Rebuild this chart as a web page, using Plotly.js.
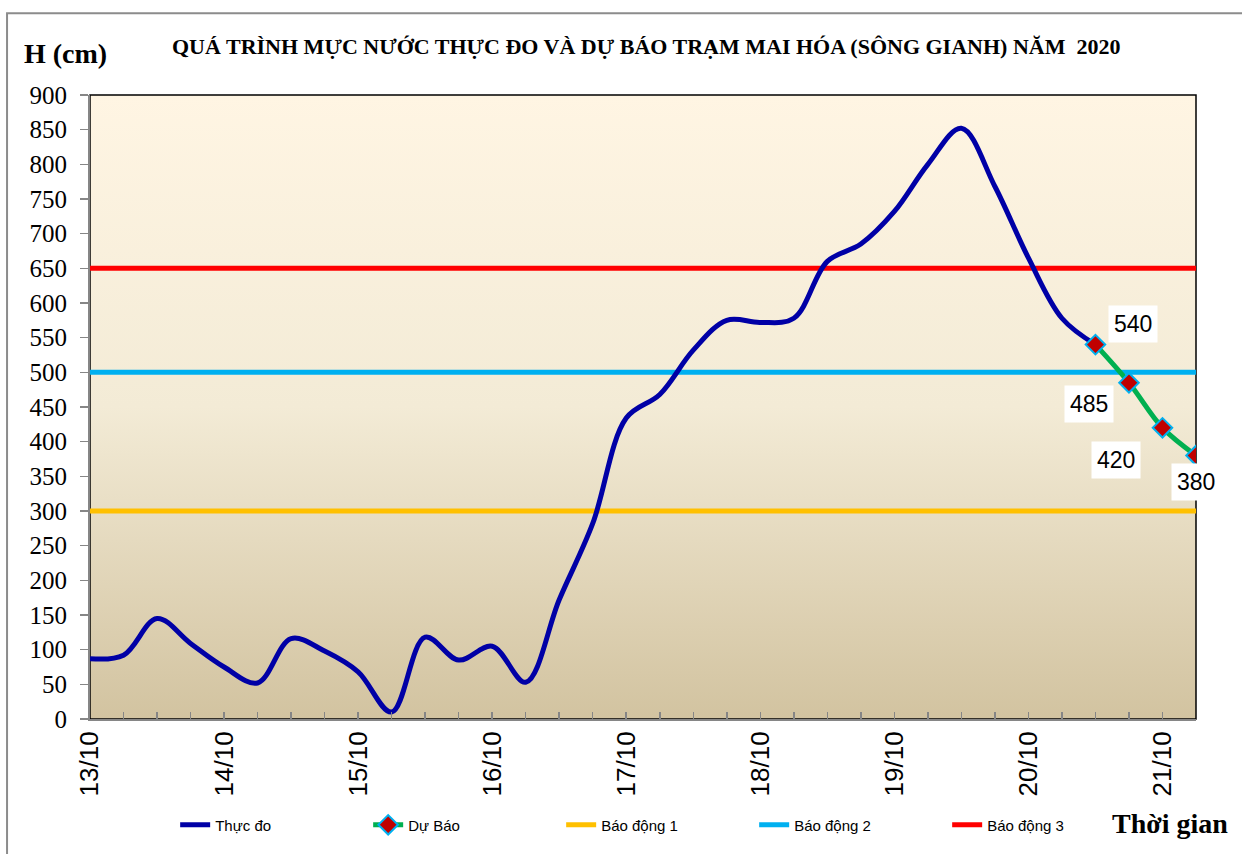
<!DOCTYPE html>
<html>
<head>
<meta charset="utf-8">
<script src="https://cdn.plot.ly/plotly-3.0.1.min.js"></script>
<style>html,body{margin:0;padding:0;background:#fff;}#chart{width:1242px;height:854px;}</style>
</head>
<body>
<div id="chart"></div>
<script>
// 6-hourly time steps (13/10 00h -> 21/10 06h)
const times = [
  "2020-10-13 00:00","2020-10-13 06:00","2020-10-13 12:00","2020-10-13 18:00",
  "2020-10-14 00:00","2020-10-14 06:00","2020-10-14 12:00","2020-10-14 18:00",
  "2020-10-15 00:00","2020-10-15 06:00","2020-10-15 12:00","2020-10-15 18:00",
  "2020-10-16 00:00","2020-10-16 06:00","2020-10-16 12:00","2020-10-16 18:00",
  "2020-10-17 00:00","2020-10-17 06:00","2020-10-17 12:00","2020-10-17 18:00",
  "2020-10-18 00:00","2020-10-18 06:00","2020-10-18 12:00","2020-10-18 18:00",
  "2020-10-19 00:00","2020-10-19 06:00","2020-10-19 12:00","2020-10-19 18:00",
  "2020-10-20 00:00","2020-10-20 06:00","2020-10-20 12:00","2020-10-20 18:00",
  "2020-10-21 00:00","2020-10-21 06:00"
];
// Thực đo (observed)
const observed = [87, 92, 145, 109, 75, 52, 116, 98, 68, 10, 118, 85, 105, 53, 172, 282, 434, 468, 532, 575, 572, 578, 660, 685, 732, 800, 852, 768, 665, 578, 540];
// Dự Báo (forecast)
const forecastTimes = ["2020-10-20 12:00","2020-10-20 18:00","2020-10-21 00:00","2020-10-21 06:00"];
const forecast = [540, 485, 420, 380];
// Alarm levels
const alarmNames = ["Báo động 1", "Báo động 2", "Báo động 3"];
const alarmLevels = [300, 500, 650];
const alarmColors = ["#FFC000", "#00B0F0", "#FF0000"];
// label offsets (styling only)
const labelShiftX = [38, -40, -46, 0];
const labelShiftY = [21, -21, -32, -26];

const obsTimes = times.slice(0, observed.length);
const xStart = times[0], xEnd = times[times.length - 1];

const traces = [];
alarmLevels.forEach((lv, i) => {
  traces.push({x: [xStart, xEnd], y: [lv, lv], name: alarmNames[i], type: "scatter", mode: "lines",
    legendrank: 3 + i, line: {color: alarmColors[i], width: 5}});
});
traces.push({x: obsTimes, y: observed, name: "Thực đo", type: "scatter", mode: "lines", legendrank: 1,
   line: {color: "#0000A6", width: 5, shape: "spline", smoothing: 1}});
traces.push({x: forecastTimes, y: forecast, name: "Dự Báo", type: "scatter", mode: "lines+markers", legendrank: 2,
  line: {color: "#00B050", width: 5, shape: "spline", smoothing: 1},
  marker: {symbol: "diamond", size: 15, color: "#C00000", line: {color: "#00B0F0", width: 2}}});

const annotations = forecast.map((v, i) => ({
  x: forecastTimes[i], y: v, xref: "x", yref: "y", text: String(v), showarrow: false,
  xanchor: "center", yanchor: "middle",
  xshift: labelShiftX[i], yshift: labelShiftY[i], bgcolor: "#FFFFFF", borderpad: 5,
  font: {family: "Liberation Sans, Arial", size: 23, color: "#000"}
}));
annotations.push({xref: "paper", yref: "paper", x: 0.503, y: 1.077, xanchor: "center", yanchor: "middle", showarrow: false,
  text: "<b>QUÁ TRÌNH MỰC NƯỚC THỰC ĐO VÀ DỰ BÁO TRẠM MAI HÓA (SÔNG GIANH) NĂM&nbsp; 2020</b>",
  font: {family: "Liberation Serif, Times New Roman", size: 22, color: "#000"}});
annotations.push({xref: "paper", yref: "paper", x: -0.0226, y: 1.067, xanchor: "center", yanchor: "middle", showarrow: false,
  text: "<b>H (cm)</b>", font: {family: "Liberation Serif, Times New Roman", size: 28, color: "#000"}});
annotations.push({xref: "paper", yref: "paper", x: 0.9765, y: -0.167, xanchor: "center", yanchor: "middle", showarrow: false,
  text: "<b>Thời gian</b>", font: {family: "Liberation Serif, Times New Roman", size: 28, color: "#000"}});

const svg = "<svg xmlns='http://www.w3.org/2000/svg' width='100' height='100' preserveAspectRatio='none'>" +
  "<defs><linearGradient id='g' x1='0' y1='0' x2='0' y2='1'>" +
  "<stop offset='0' stop-color='#FFF5E3'/><stop offset='0.5' stop-color='#F3EBD6'/><stop offset='1' stop-color='#D2C3A0'/>" +
  "</linearGradient></defs><rect width='100' height='100' fill='url(#g)'/></svg>";
const bg = "data:image/svg+xml;base64," + btoa(svg);

const layout = {
  width: 1242, height: 854,
  margin: {l: 90, r: 46, t: 95, b: 135},
  paper_bgcolor: "#FFFFFF", plot_bgcolor: "rgba(0,0,0,0)",
  showlegend: true,
  legend: {orientation: "h", x: 0.077, y: -0.17, xanchor: "left", yanchor: "middle",
    entrywidth: 148, entrywidthmode: "pixels",
    font: {family: "Liberation Sans, Arial", size: 15, color: "#000"}, bgcolor: "rgba(0,0,0,0)",
    traceorder: "normal"},
  images: [{source: bg, xref: "paper", yref: "paper", x: 0, y: 1, sizex: 1, sizey: 1,
    sizing: "stretch", layer: "below", xanchor: "left", yanchor: "top"}],
  xaxis: {type: "date", range: [xStart, xEnd], dtick: 86400000, tick0: xStart,
    tickformat: "%d/%m", tickangle: -90, ticks: "inside", ticklen: 7, tickcolor: "#868686", tickwidth: 1.5,
    minor: {dtick: 21600000, ticks: "inside", ticklen: 7, tickcolor: "#868686", tickwidth: 1.5, showgrid: false},
    showline: true, linecolor: "#868686", linewidth: 2, showgrid: false, zeroline: false,
    tickfont: {family: "Liberation Sans, Arial", size: 26, color: "#000"}, fixedrange: true},
  yaxis: {range: [0, 900], dtick: 50, ticks: "outside", ticklen: 8, tickcolor: "#868686", tickwidth: 1.5,
    ticklabelstandoff: 8,
    showline: true, linecolor: "#868686", linewidth: 2, showgrid: false, zeroline: false,
    tickfont: {family: "Liberation Serif, Times New Roman", size: 25, color: "#000"}, fixedrange: true},
  shapes: [
    {type: "rect", xref: "paper", yref: "paper", x0: 0, x1: 1, y0: 0, y1: 1,
     line: {color: "#000", width: 1.5}, layer: "below"},
    {type: "rect", xref: "paper", yref: "paper", x0: -0.075, x1: 1.1, y0: -0.24, y1: 1.131,
     line: {color: "#8C8C8C", width: 2}, fillcolor: "rgba(0,0,0,0)", layer: "below"}
  ],
  annotations: annotations
};

Plotly.newPlot("chart", traces, layout, {staticPlot: true, displayModeBar: false});
</script>
</body>
</html>
